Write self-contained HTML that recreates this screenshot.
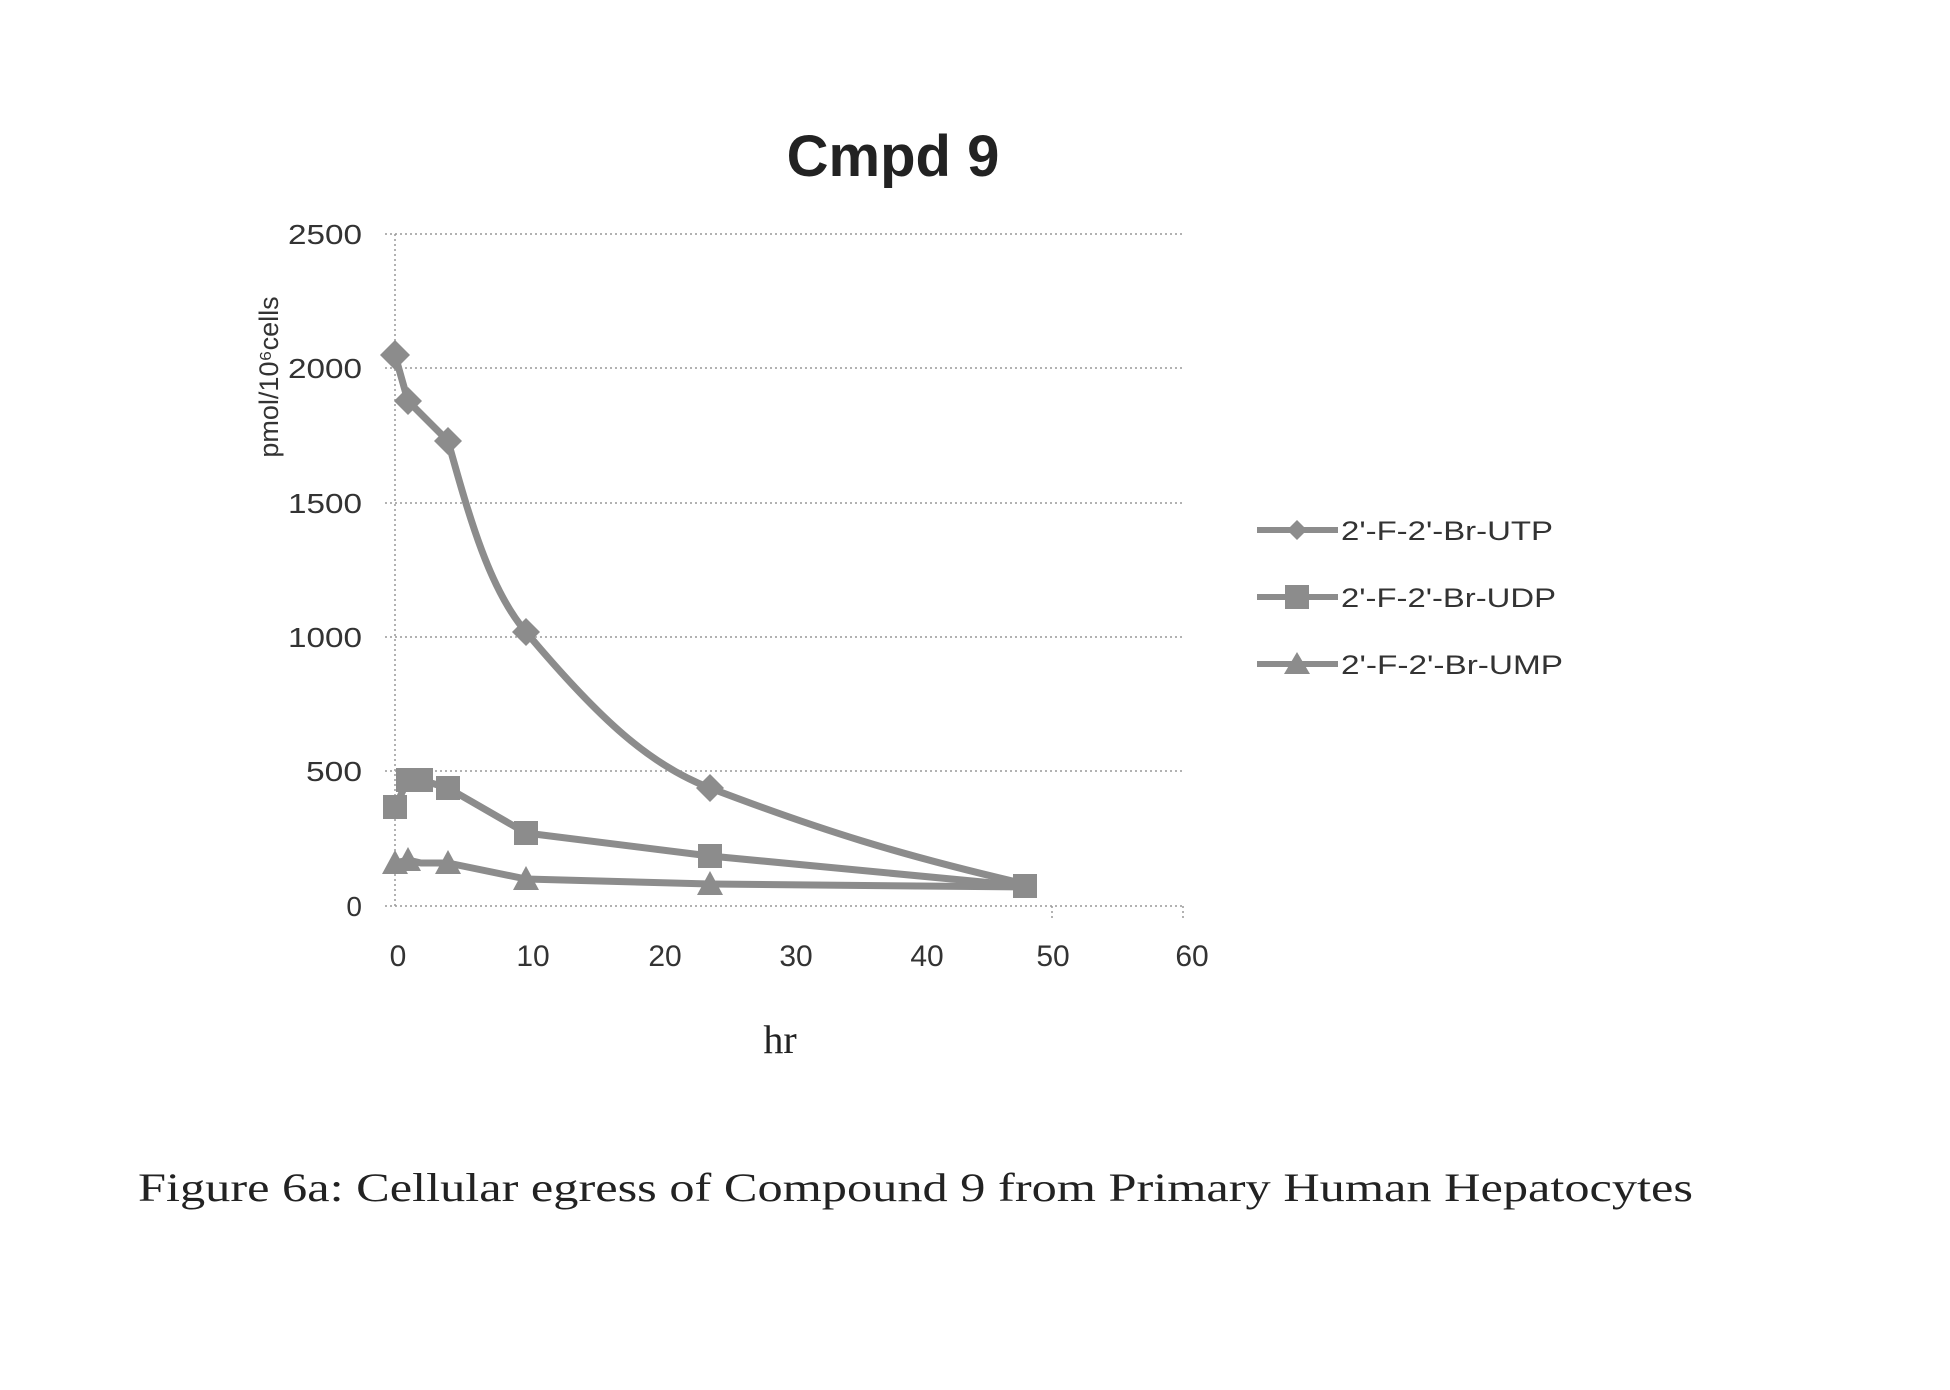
<!DOCTYPE html>
<html><head><meta charset="utf-8"><style>html,body{margin:0;padding:0;background:#fff}</style></head>
<body>
<svg width="1950" height="1385" xmlns="http://www.w3.org/2000/svg">
<rect width="1950" height="1385" fill="#fff"/>
<text x="893" y="176" font-family="Liberation Sans, sans-serif" font-weight="bold" font-size="58" text-anchor="middle" fill="#222">Cmpd 9</text>
<g stroke="#999" stroke-width="1.5" stroke-dasharray="2,3">
<line x1="385" y1="234" x2="1183" y2="234"/>
<line x1="385" y1="368" x2="1183" y2="368"/>
<line x1="385" y1="503" x2="1183" y2="503"/>
<line x1="385" y1="637" x2="1183" y2="637"/>
<line x1="385" y1="771" x2="1183" y2="771"/>
<line x1="385" y1="906" x2="1183" y2="906"/>
<line x1="395" y1="234" x2="395" y2="906"/>
<line x1="1183" y1="906" x2="1183" y2="918"/>
<line x1="1052" y1="906" x2="1052" y2="918"/>
</g>
<g font-family="Liberation Sans, sans-serif" font-size="28" fill="#333" text-anchor="end">
<text x="362" y="244" textLength="74" lengthAdjust="spacingAndGlyphs">2500</text>
<text x="362" y="378" textLength="74" lengthAdjust="spacingAndGlyphs">2000</text>
<text x="362" y="513" textLength="74" lengthAdjust="spacingAndGlyphs">1500</text>
<text x="362" y="647" textLength="74" lengthAdjust="spacingAndGlyphs">1000</text>
<text x="362" y="781" textLength="56" lengthAdjust="spacingAndGlyphs">500</text>
<text x="362" y="916">0</text>
</g>
<g font-family="Liberation Sans, sans-serif" font-size="30" fill="#333" text-anchor="middle">
<text x="398" y="966">0</text>
<text x="533" y="966">10</text>
<text x="665" y="966">20</text>
<text x="796" y="966">30</text>
<text x="927" y="966">40</text>
<text x="1053" y="966">50</text>
<text x="1192" y="966">60</text>
</g>
<text transform="translate(278,377) rotate(-90)" font-family="Liberation Sans, sans-serif" font-size="27" fill="#333" text-anchor="middle">pmol/10⁶cells</text>
<text x="780" y="1053" font-family="Liberation Serif, serif" font-size="40" fill="#222" text-anchor="middle">hr</text>
<g fill="none" stroke="#8c8c8c" stroke-width="7" stroke-linejoin="round" stroke-linecap="round">
<path d="M395,355 L408,401 L448,441 C470,520 490,590 526,632 C600,720 650,765 710,788 C820,830 900,855 1025,884"/>
<path d="M395,807 L408,780 L421,780 L448,788 L526,833 L710,856 L1025,886"/>
<path d="M395,863 L408,860 L421,863 L448,863 L526,879 L710,884 L1025,887"/>
</g>
<g fill="#8c8c8c">
<polygon points="395,340 410,355 395,370 380,355"/>
<polygon points="408,387 422,401 408,415 394,401"/>
<polygon points="448,427 462,441 448,455 434,441"/>
<polygon points="526,618 540,632 526,646 512,632"/>
<polygon points="710,774 724,788 710,802 696,788"/>
<rect x="383" y="795" width="24" height="24"/><rect x="396" y="768" width="24" height="24"/><rect x="409" y="768" width="24" height="24"/><rect x="436" y="776" width="24" height="24"/><rect x="514" y="821" width="24" height="24"/><rect x="698" y="844" width="24" height="24"/><rect x="1013" y="874" width="24" height="24"/>
<polygon points="395,850 408,874 382,874"/><polygon points="408,847 421,871 395,871"/><polygon points="448,850 461,874 435,874"/><polygon points="526,866 539,890 513,890"/><polygon points="710,871 723,895 697,895"/>
</g>
<g stroke="#8c8c8c" stroke-width="6"><line x1="1257" y1="530" x2="1338" y2="530"/><line x1="1257" y1="597" x2="1338" y2="597"/><line x1="1257" y1="664" x2="1338" y2="664"/></g>
<g fill="#8c8c8c"><polygon points="1297,520 1307,530 1297,540 1287,530"/><rect x="1285" y="585" width="24" height="24"/><polygon points="1297,652 1310,674 1284,674"/></g>
<g font-family="Liberation Sans, sans-serif" font-size="27" fill="#333">
<text x="1341" y="540" textLength="212" lengthAdjust="spacingAndGlyphs">2'-F-2'-Br-UTP</text>
<text x="1341" y="607" textLength="215" lengthAdjust="spacingAndGlyphs">2'-F-2'-Br-UDP</text>
<text x="1341" y="674" textLength="222" lengthAdjust="spacingAndGlyphs">2'-F-2'-Br-UMP</text>
</g>
<text x="138" y="1201" font-family="Liberation Serif, serif" font-size="40" fill="#222" textLength="1555" lengthAdjust="spacingAndGlyphs">Figure 6a:  Cellular egress of Compound 9 from Primary Human Hepatocytes</text>
</svg>
</body></html>
